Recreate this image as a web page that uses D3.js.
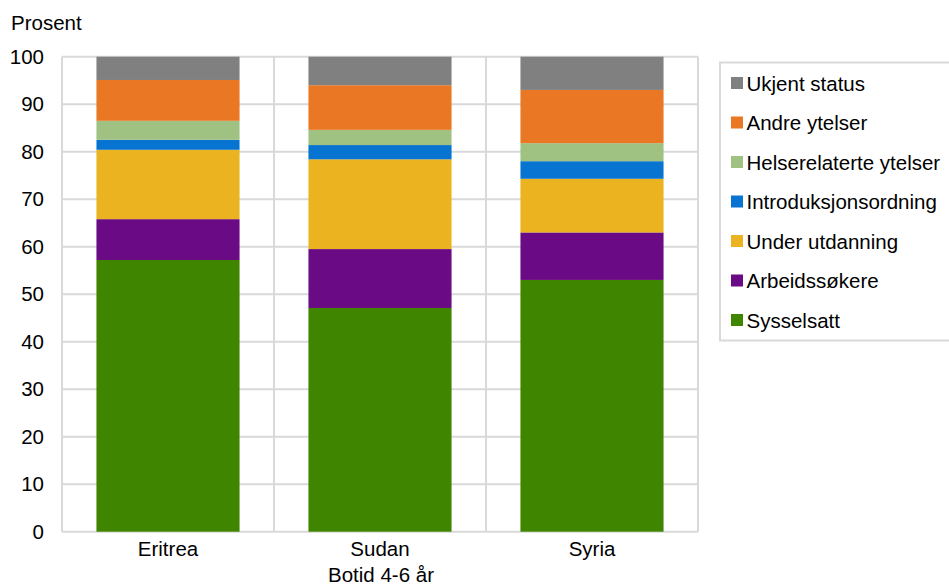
<!DOCTYPE html>
<html><head><meta charset="utf-8">
<script src="https://cdn.jsdelivr.net/npm/d3@7"></script>
<style>body{margin:0;background:#fff}svg{display:block;font-family:"Liberation Sans",Arial,sans-serif}</style>
</head><body><svg id="c" width="949" height="587"></svg>
<script>
const categories = ["Eritrea", "Sudan", "Syria"];
const seriesNames = ["Sysselsatt", "Arbeidssøkere", "Under utdanning", "Introduksjonsordning", "Helserelaterte ytelser", "Andre ytelser", "Ukjent status"];
const sysselsatt = [57.2, 47.1, 53.0];
const arbeidssokere = [8.6, 12.4, 10.0];
const underUtdanning = [14.6, 18.9, 11.3];
const introduksjon = [2.1, 3.0, 3.7];
const helse = [4.0, 3.2, 3.8];
const andre = [8.6, 9.4, 11.2];
const ukjent = [4.9, 6.0, 7.0];
const colors = ["#3F8500", "#6A0A84", "#EBB31F", "#0874D1", "#9FC283", "#EA7724", "#808080"];
const yTicks = [0, 10, 20, 30, 40, 50, 60, 70, 80, 90, 100];

const FS = 20.5;
const values = [sysselsatt, arbeidssokere, underUtdanning, introduksjon, helse, andre, ukjent];
const rows = categories.map((c, i) => {
  const r = {cat: c};
  seriesNames.forEach((s, j) => r[s] = values[j][i]);
  return r;
});
const stacked = d3.stack().keys(seriesNames)(rows);

const svg = d3.select("#c");
const m = {l: 62, r: 698, t: 56.7, b: 531.7};
const x = d3.scaleBand().domain(categories).range([m.l, m.r]).paddingInner(0.325).paddingOuter(0.1625);
const xb = d3.scaleBand().domain(categories).range([m.l, m.r]);
const y = d3.scaleLinear().domain([0, 100]).range([m.b, m.t]);

const grid = svg.append("g");
grid.selectAll("line.h").data(yTicks).join("line")
  .attr("x1", m.l).attr("x2", m.r).attr("y1", d => y(d)).attr("y2", d => y(d))
  .attr("stroke", "#d9d9d9").attr("stroke-width", 2);
const vx = [m.l, ...categories.map(c => xb(c) + xb.bandwidth())];
grid.selectAll("line.v").data(vx).join("line")
  .attr("x1", d => d).attr("x2", d => d).attr("y1", m.t).attr("y2", m.b)
  .attr("stroke", "#d9d9d9").attr("stroke-width", 2);

svg.append("g").selectAll("g").data(stacked).join("g")
  .attr("fill", (d, i) => colors[i])
  .selectAll("rect").data(d => d).join("rect")
  .attr("x", d => x(d.data.cat)).attr("width", x.bandwidth())
  .attr("y", d => y(d[1])).attr("height", d => y(d[0]) - y(d[1]));

const yAxis = d3.axisLeft(y).tickValues(yTicks).tickSize(0).tickPadding(0);
const ya = svg.append("g").attr("transform", `translate(44,0)`).call(yAxis);
ya.select(".domain").remove();
ya.attr("font-size", FS).attr("font-family", null);
ya.selectAll("text").attr("fill", "#000");

const xAxis = d3.axisBottom(xb).tickSize(0).tickPadding(0);
const xa = svg.append("g").attr("transform", `translate(0,${m.b + 10})`).call(xAxis);
xa.select(".domain").remove();
xa.attr("font-size", FS).attr("font-family", null);
xa.selectAll("text").attr("fill", "#000");

svg.append("text").attr("x", 11).attr("y", 29.5).attr("font-size", FS).text("Prosent");
svg.append("text").attr("x", (m.l + m.r) / 2 + 1).attr("y", 582).attr("text-anchor", "middle").attr("font-size", FS).text("Botid 4-6 år");

const lg = svg.append("g");
lg.append("rect").attr("x", 720).attr("y", 62.5).attr("width", 240).attr("height", 278)
  .attr("fill", "#fff").attr("stroke", "#d9d9d9").attr("stroke-width", 2);
const legendOrder = seriesNames.map((s, i) => ({s, c: colors[i]})).reverse();
const li = lg.selectAll("g.item").data(legendOrder).join("g")
  .attr("transform", (d, i) => `translate(731,${83 + i * 39.5})`);
li.append("rect").attr("x", 0).attr("y", -6).attr("width", 12).attr("height", 12).attr("fill", d => d.c);
li.append("text").attr("x", 15.5).attr("y", 7.5).attr("font-size", FS).text(d => d.s);
</script></body></html>
